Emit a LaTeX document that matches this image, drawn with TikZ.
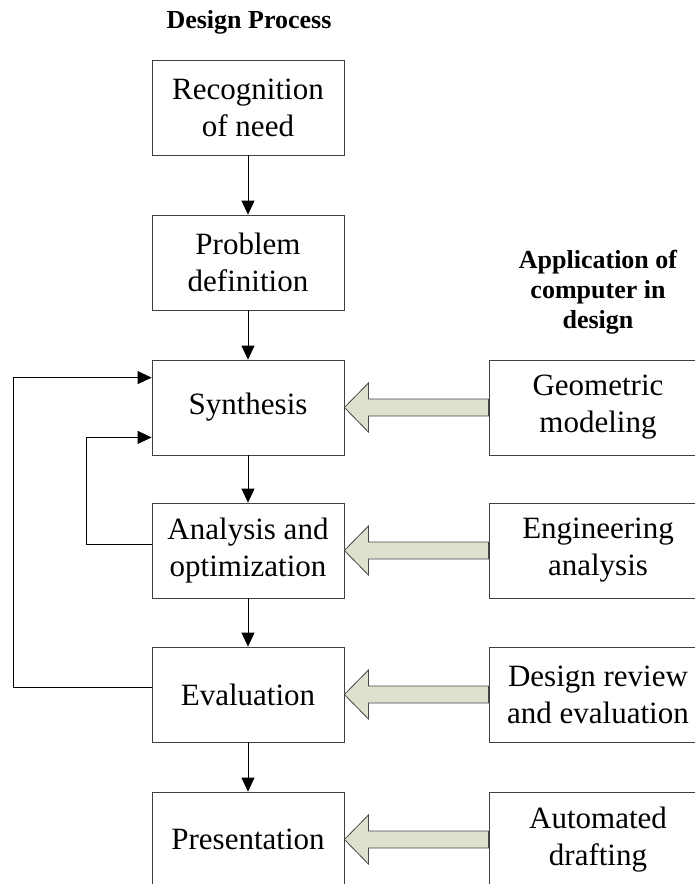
\documentclass[tikz,border=0pt]{standalone}
\usepackage{fontspec}
\setmainfont{Liberation Serif}
\usetikzlibrary{arrows.meta,calc}
\definecolor{boxgray}{RGB}{64,64,64}
\definecolor{sagefill}{RGB}{221,226,206}
\definecolor{sageline}{RGB}{70,70,70}
\newcommand{\sagearrow}[2]{%
  \filldraw[fatarrow] (#1.east) -- ($(#1.east)+(24,-24.5)$) -- ($(#1.east)+(24,-8.5)$)
    -- ($(#2.west)+(0,-8.5)$) -- ($(#2.west)+(0,8.5)$)
    -- ($(#1.east)+(24,8.5)$) -- ($(#1.east)+(24,24.5)$) -- cycle;}

\begin{document}
\begin{tikzpicture}[x=1pt, y=-1pt,
    procbox/.style={draw=boxgray, line width=0.8pt, minimum width=192pt, minimum height=95pt,
      align=center, font=\fontsize{31}{37}\selectfont},
    appbox/.style={procbox, minimum width=218pt},
    head/.style={font=\bfseries\fontsize{26}{30}\selectfont, align=center},
    flow/.style={-{Triangle[length=14pt, width=13pt]}, line width=0.8pt},
    fatarrow/.style={draw=sageline, fill=sagefill, line width=0.8pt, line join=miter}]
    \useasboundingbox (0,0) rectangle (695,884);
    \clip (0,0) rectangle (695,884);

    % Headings
    \node[head] (dptitle) at (249,22) {Design Process};
    \node[head] (aptitle) at (598,292) {Application of\\computer in\\design};

    % Design process
    \node[procbox] (rec) at (248,107.5) {Recognition\\of need};
    \node[procbox] (prob) at (248,262.5) {Problem\\definition};
    \node[procbox] (syn) at (248,407.5) {Synthesis};
    \node[procbox] (ana) at (248,550.5) {Analysis and\\optimization};
    \node[procbox] (eva) at (248,694.5) {Evaluation};
    \node[procbox] (pre) at (248,839.5) {Presentation};

    % Computer applications (cut off at the right edge)
    \node[appbox] (geo) at (598,407.5) {Geometric\\modeling};
    \node[appbox] (eng) at (598,550.5) {Engineering\\analysis};
    \node[appbox] (rev) at (598,694.5) {Design review\\and evaluation};
    \node[appbox] (auto) at (598,839.5) {Automated\\drafting};

    % Flow
    \draw[flow] (rec) -- (prob);
    \draw[flow] (prob) -- (syn);
    \draw[flow] (syn) -- (ana);
    \draw[flow] (ana) -- (eva);
    \draw[flow] (eva) -- (pre);

    % Feedback loops
    \draw[flow] ([yshift=-41pt]eva.north west) -- ++(-138,0) |- ([yshift=-18pt]syn.north west);
    \draw[flow] ([yshift=-42pt]ana.north west) -- ++(-65,0) |- ([yshift=18pt]syn.south west);

    % Block arrows
    \sagearrow{syn}{geo}
    \sagearrow{ana}{eng}
    \sagearrow{eva}{rev}
    \sagearrow{pre}{auto}
\end{tikzpicture}
\end{document}
